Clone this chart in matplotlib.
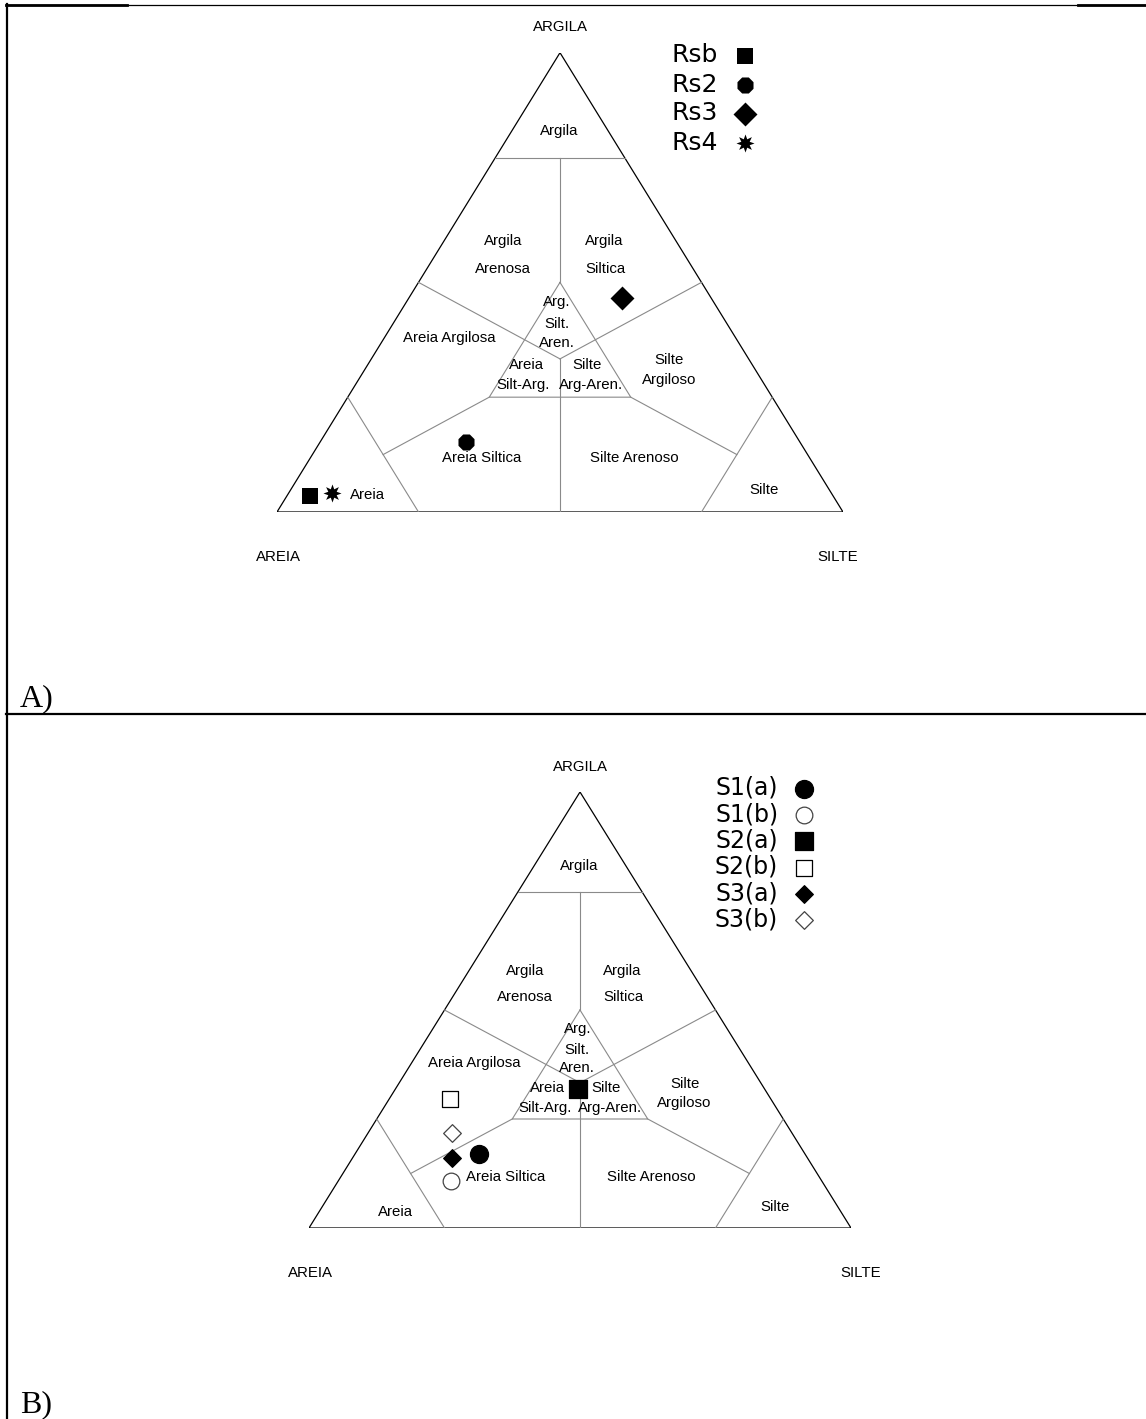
import numpy as np
import matplotlib.pyplot as plt

plt.rcParams['font.family'] = ['Liberation Sans', 'DejaVu Sans']

# --- amostras, composicao em % (argila, silte); areia = resto
names_a = ['Rsb', 'Rs2', 'Rs3', 'Rs4']
argila_a = [3.5, 15.2, 46.7, 4.1]
silte_a = [4.1, 25.8, 37.6, 7.6]

names_b = ['S1(a)', 'S1(b)', 'S2(a)', 'S2(b)', 'S3(a)', 'S3(b)']
argila_b = [17.0, 10.8, 31.9, 29.6, 16.1, 21.8]
silte_b = [22.9, 20.8, 33.7, 11.2, 18.4, 15.5]

# limites das classes (argila, silte, areia)
c3 = 100 / 3
arg_lim = 77
boundaries = [
    [(arg_lim, 0, 100 - arg_lim), (arg_lim, 100 - arg_lim, 0)],
    [(arg_lim, (100 - arg_lim) / 2, (100 - arg_lim) / 2), (50, 25, 25)],
    [(50, 25, 25), (25, 50, 25), (25, 25, 50), (50, 25, 25)],
    [(50, 0, 50), (c3, c3, c3)],
    [(50, 50, 0), (c3, c3, c3)],
    [(c3, c3, c3), (0, 50, 50)],
    [(25, 0, 75), (0, 25, 75)],
    [(25, 75, 0), (0, 75, 25)],
    [(12.5, 12.5, 75), (25, 25, 50)],
    [(12.5, 75, 12.5), (25, 50, 25)],
]

# nomes das classes (x, y no triangulo)
class_labels = [
    ('Argila', 0.498, 0.830),
    ('Argila', 0.399, 0.589), ('Arenosa', 0.399, 0.530),
    ('Argila', 0.578, 0.589), ('Siltica', 0.581, 0.530),
    ('Arg.', 0.495, 0.457), ('Silt.', 0.495, 0.409), ('Aren.', 0.495, 0.367),
    ('Areia Argilosa', 0.304, 0.378),
    ('Areia', 0.440, 0.320), ('Silt-Arg.', 0.435, 0.276),
    ('Silte', 0.548, 0.320), ('Arg-Aren.', 0.555, 0.276),
    ('Silte', 0.693, 0.330), ('Argiloso', 0.693, 0.287),
    ('Areia Siltica', 0.362, 0.117),
    ('Silte Arenoso', 0.631, 0.117),
    ('Areia', 0.159, 0.037),
    ('Silte', 0.860, 0.048),
]


def to_xy(argila, silte):
    argila = np.asarray(argila, dtype=float) / 100
    silte = np.asarray(silte, dtype=float) / 100
    return silte + argila / 2, argila


def draw_triangle(ax, corner_pos):
    ax.plot([0, 1, 0.5, 0], [0, 0, 1, 0], color='black', lw=0.9,
            solid_joinstyle='miter')
    for seg in boundaries:
        x, y = to_xy([p[0] for p in seg], [p[1] for p in seg])
        ax.plot(x, y, color='#8a8a8a', lw=0.8)
    for txt, x, y in class_labels:
        ax.text(x, y, txt, ha='center', va='center', fontsize=10.8)
    for txt, (x, y) in zip(['ARGILA', 'AREIA', 'SILTE'], corner_pos):
        ax.text(x, y, txt, ha='center', va='center', fontsize=10.8)
    ax.set_xlim(0, 1)
    ax.set_ylim(0, 1)
    ax.axis('off')


W, H = 1146, 1419
fig = plt.figure(figsize=(W / 100, H / 100), dpi=100)

# moldura da tabela
frame = fig.add_axes([0, 0, 1, 1])
frame.set_xlim(0, W)
frame.set_ylim(H, 0)
frame.axis('off')
frame.plot([6, 1146], [5, 5], color='black', lw=0.9)
frame.plot([6, 127], [5, 5], color='black', lw=2)
frame.plot([1078, 1146], [5, 5], color='black', lw=2)
frame.plot([6.5, 6.5], [4, 1419], color='black', lw=1.6)
frame.plot([6, 1146], [714, 714], color='black', lw=1.6)
frame.text(20, 706, 'A)', fontsize=23, family='Liberation Serif')
frame.text(20, 1412, 'B)', fontsize=23, family='Liberation Serif')


def px_axes(left, right, top, bottom):
    return fig.add_axes([left / W, 1 - bottom / H, (right - left) / W,
                         (bottom - top) / H])


# painel A
ax_a = px_axes(277, 843, 52.7, 512)
draw_triangle(ax_a, [(0.5, 1.057), (0.002, -0.098), (0.991, -0.098)])
styles_a = [
    dict(marker='s', s=11.5 ** 2, c='black'),
    dict(marker='8', s=12.5 ** 2, c='black'),
    dict(marker='D', s=12.2 ** 2, c='black'),
    dict(marker=(8, 1, 0), s=13 ** 2, c='black'),
]
handles = []
for name, a, s, st in zip(names_a, argila_a, silte_a, styles_a):
    x, y = to_xy(a, s)
    handles.append(ax_a.scatter(x, y, label=name, clip_on=False, zorder=5,
                                linewidths=0, **st))
ax_a.legend(handles=handles, markerfirst=False, frameon=False,
            prop=dict(family='DejaVu Sans', size=18),
            loc='upper left', bbox_to_anchor=(671 / W, 1 - 43.5 / H),
            bbox_transform=fig.transFigure, borderpad=0, borderaxespad=0,
            labelspacing=0.2, handletextpad=0.5, handlelength=1.2,
            scatterpoints=1)

# painel B
ax_b = px_axes(309, 851, 792, 1228)
draw_triangle(ax_b, [(0.5, 1.057), (0.002, -0.103), (1.017, -0.103)])
styles_b = [
    dict(marker='o', s=13 ** 2, facecolors='black', edgecolors='black'),
    dict(marker='o', s=12 ** 2, facecolors='white', edgecolors='#444444'),
    dict(marker='s', s=13.5 ** 2, facecolors='black', edgecolors='black'),
    dict(marker='s', s=12 ** 2, facecolors='white', edgecolors='black'),
    dict(marker='D', s=9 ** 2, facecolors='black', edgecolors='black'),
    dict(marker='D', s=9 ** 2, facecolors='white', edgecolors='#444444'),
]
handles = []
for name, a, s, st in zip(names_b, argila_b, silte_b, styles_b):
    x, y = to_xy(a, s)
    handles.append(ax_b.scatter(x, y, label=name, clip_on=False, zorder=5,
                                linewidths=0.9, **st))
ax_b.legend(handles=handles, markerfirst=False, frameon=False,
            prop=dict(family='DejaVu Sans', size=17),
            loc='upper left', bbox_to_anchor=(715 / W, 1 - 776 / H),
            bbox_transform=fig.transFigure, borderpad=0, borderaxespad=0,
            labelspacing=0.096, handletextpad=0.6, handlelength=1.0,
            scatterpoints=1)

fig.savefig('out.png', dpi=100)
